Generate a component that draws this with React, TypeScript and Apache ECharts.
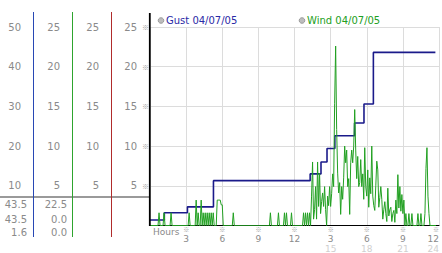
import React, { useEffect, useRef } from 'react';
import * as echarts from 'echarts';

// Gust (step line): change times in hours and the new value
const gustHours = [0, 1.19, 3.11, 5.27, 13.3, 14.2, 14.7, 15.35, 16.99, 17.77, 18.55, 23.7];
const gustValues = [0.7, 1.6, 2.35, 5.65, 6.5, 8.0, 9.7, 11.3, 12.9, 15.3, 21.8, 21.8];

// Wind: one reading every 5 minutes from 00:00
const windStepMinutes = 5;
const windValues = [
  0, 0, 0, 0, 0, 0, 0, 0, 0, 1.6, 0, 0, 0, 0, 1.6, 0, 0, 0, 0, 0,
  0, 1.6, 0, 0, 0, 0, 0, 0, 0, 0, 0, 0, 0, 0, 0, 0, 0, 0, 0, 1.6,
  0, 0, 0, 0, 0, 0, 3.2, 0, 1.6, 0, 0, 3.2, 0, 1.6, 0, 1.6, 0, 1.6, 0, 1.6,
  0, 1.6, 0, 1.6, 0, 0, 0, 3.2, 3.2, 3.2, 3.2, 2.6, 2.6, 0, 0, 0, 0, 0, 0, 0,
  0, 0, 0, 1.6, 0, 0, 0, 0, 0, 0, 0, 0, 0, 0, 0, 0, 0, 0, 0, 0,
  0, 0, 0, 0, 0, 0, 0, 0, 0, 0, 0, 0, 0, 0, 0, 0, 0, 0, 0, 0,
  1.6, 0, 0, 0, 0, 0, 0, 0, 1.6, 0, 0, 0, 0, 0, 1.6, 0, 1.6, 0, 0, 0,
  0, 1.6, 0, 0, 0, 0, 0, 0, 0, 0, 0, 0, 0, 1.6, 0, 1.6, 0, 1.6, 0, 1.6,
  0, 3.7, 8.0, 0.8, 2.0, 4.9, 0.8, 8.0, 2.4, 6.6, 1.5, 3.0, 4.1, 2.4, 4.9, 2.0, 0, 3.7, 2.5, 4.9,
  2.4, 4.0, 6.5, 4.9, 15.4, 22.6, 12.1, 6.6, 4.1, 5.4, 1.4, 4.9, 3.3, 6.0, 10.0, 7.9, 9.5, 4.9, 5.9, 1.4,
  7.9, 9.5, 7.9, 10.0, 14.6, 9.5, 5.9, 8.7, 4.9, 5.4, 8.3, 4.9, 6.5, 3.3, 9.8, 4.9, 3.7, 7.0, 2.3, 6.0,
  4.0, 10.0, 3.7, 2.5, 1.9, 5.0, 8.1, 7.0, 2.3, 3.5, 4.9, 3.3, 0.8, 2.0, 3.0, 1.5, 0.5, 4.7, 1.2, 2.0,
  2.3, 0.5, 1.5, 1.9, 0.4, 3.2, 1.5, 6.4, 2.2, 4.9, 1.8, 3.9, 1.5, 3.2, 0, 1.5, 0, 0, 1.5, 0,
  0, 1.5, 0, 0, 0, 0, 0, 1.5, 0, 0, 1.5, 0, 0, 0, 1.5, 7.2, 9.8, 3.7, 1.5, 0,
  0, 0, 0, 0, 0, 0,
];

const gustName = 'Gust 04/07/05';
const windName = 'Wind 04/07/05';
const statsColA = ['43.5', '43.5', '1.6'];
const statsColB = ['22.5', '0.0', '0.0'];

const FONT = 'DejaVu Sans';
const GRAY = '#8a8a8a';

export default function App() {
  const ref = useRef<HTMLDivElement>(null);
  useEffect(() => {
    if (!ref.current) return;
    const chart = echarts.init(ref.current, null, { renderer: 'svg' });
    const gustData = gustHours.map((h, i) => [h, gustValues[i]]);
    const windData = windValues.map((v, i) => [(i * windStepMinutes) / 60, v]);

    const sideAxis = (max: number, interval: number, offset: number) => ({
      type: 'value',
      position: 'left',
      min: 0,
      max,
      interval,
      offset,
      axisLine: { show: false },
      axisTick: { show: false },
      splitLine: { show: false },
      axisLabel: {
        margin: 12,
        color: GRAY,
        fontFamily: FONT,
        fontSize: 10,
        formatter: (v: number) => (v === 0 ? '' : String(v)),
      },
    });

    const statTexts: any[] = [];
    [statsColA, statsColB].forEach((col, c) => {
      col.forEach((s, r) => {
        statTexts.push({
          type: 'text',
          x: c === 0 ? 27 : 67,
          y: [204, 219, 232][r],
          style: {
            text: s,
            fill: GRAY,
            font: `10px "${FONT}"`,
            align: 'right',
            verticalAlign: 'middle',
          },
        });
      });
    });

    chart.setOption({
      animation: false,
      backgroundColor: '#ffffff',
      grid: { left: 150, right: 3, top: 27, bottom: 27, containLabel: false },
      xAxis: {
        type: 'value',
        min: 0,
        max: 24,
        interval: 3,
        axisLine: { show: true, lineStyle: { color: '#000', width: 1 } },
        axisTick: { show: false },
        splitLine: { show: true, lineStyle: { color: '#dcdcdc', width: 1 } },
        axisLabel: {
          margin: 0,
          alignMaxLabel: 'right',
          formatter: (v: number) => {
            if (v === 0) return '';
            if (v <= 12) return `{m|※}\n{a|${v}}`;
            return `{m|※}\n{a|${v - 12}}\n{b|${v}}`;
          },
          rich: {
            m: { fontSize: 6, lineHeight: 8, color: '#9a9a9a', fontFamily: 'Noto Sans CJK JP' },
            a: { fontSize: 9, lineHeight: 10, color: GRAY, fontFamily: FONT },
            b: { fontSize: 9, lineHeight: 10, color: '#cfcfcf', fontFamily: FONT },
          },
        },
      },
      yAxis: [
        {
          type: 'value',
          min: 0,
          max: 25,
          interval: 5,
          axisLine: { show: false },
          axisTick: { show: false },
          splitLine: { show: true, lineStyle: { color: '#dcdcdc', width: 1 } },
          axisLabel: {
            margin: 1,
            formatter: (v: number) => (v === 0 ? '' : `{v|${v}}{m|※}`),
            rich: {
              v: { fontSize: 10, color: GRAY, fontFamily: FONT },
              m: { fontSize: 7, color: '#9a9a9a', fontFamily: 'Noto Sans CJK JP', padding: [0, 0, 0, 5] },
            },
          },
        },
        sideAxis(50, 10, 117),
        sideAxis(25, 5, 78),
        sideAxis(25, 5, 39),
      ],
      series: [
        {
          name: gustName,
          type: 'line',
          step: 'end',
          data: gustData,
          showSymbol: false,
          lineStyle: { color: '#1a1a8a', width: 1.6 },
          z: 3,
        },
        {
          name: windName,
          type: 'line',
          data: windData,
          showSymbol: false,
          lineStyle: { color: '#22a022', width: 1 },
          z: 4,
        },
      ],
      graphic: [
        { type: 'line', z: 100, shape: { x1: 33.5, y1: 12, x2: 33.5, y2: 237 }, style: { stroke: '#2848b4', lineWidth: 1 } },
        { type: 'line', z: 100, shape: { x1: 72.5, y1: 12, x2: 72.5, y2: 237 }, style: { stroke: '#2ea42e', lineWidth: 1 } },
        { type: 'line', z: 100, shape: { x1: 111.5, y1: 12, x2: 111.5, y2: 237 }, style: { stroke: '#b02c2c', lineWidth: 1 } },
        { type: 'line', z: 99, shape: { x1: 0, y1: 197, x2: 149, y2: 197 }, style: { stroke: '#9a9a9a', lineWidth: 2 } },
        { type: 'line', z: 101, shape: { x1: 149.8, y1: 13, x2: 149.8, y2: 226 }, style: { stroke: '#000', lineWidth: 1.8 } },
        ...statTexts,
        { type: 'circle', z: 100, shape: { cx: 161, cy: 20.5, r: 2.8 }, style: { fill: '#bdbdbd', stroke: '#8c8c8c', lineWidth: 0.8 } },
        { type: 'text', z: 100, x: 166, y: 20.5, style: { text: gustName, fill: '#2a2aa6', font: `10px "${FONT}"`, verticalAlign: 'middle' } },
        { type: 'circle', z: 100, shape: { cx: 302, cy: 20.5, r: 2.8 }, style: { fill: '#bdbdbd', stroke: '#8c8c8c', lineWidth: 0.8 } },
        { type: 'text', z: 100, x: 307, y: 20.5, style: { text: windName, fill: '#22a022', font: `10px "${FONT}"`, verticalAlign: 'middle' } },
        { type: 'text', z: 100, x: 153, y: 232, style: { text: 'Hours', fill: GRAY, font: `9px "${FONT}"`, verticalAlign: 'middle' } },
      ],
    });
    return () => chart.dispose();
  }, []);

  return (
    <div
      ref={ref}
      style={{ position: 'absolute', left: 0, top: 0, width: 442, height: 253 }}
    />
  );
}
